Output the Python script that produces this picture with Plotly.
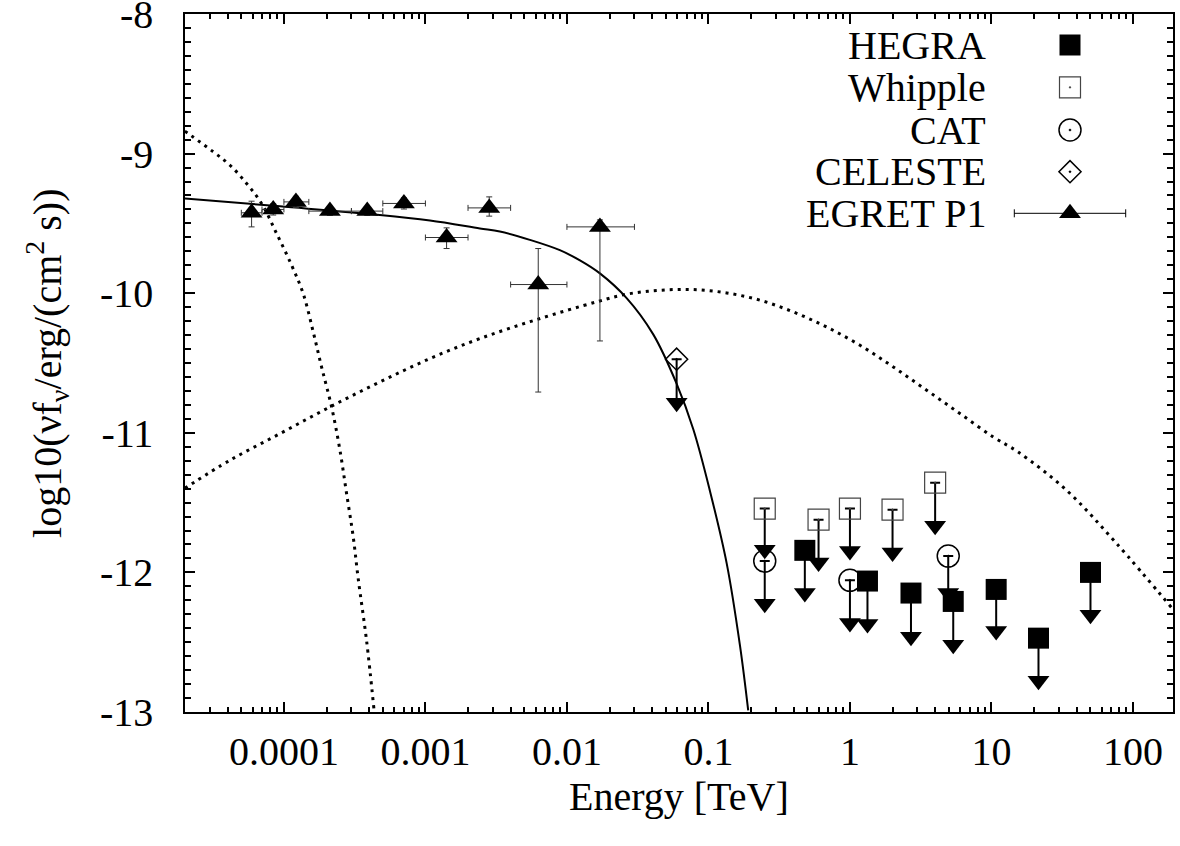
import plotly.graph_objects as go

# EGRET P1 points (energy in TeV, log10 of nuFnu)
egret_e = [5.91e-5, 8.40e-5, 1.216e-4, 2.114e-4, 3.88e-4, 7.05e-4, 1.411e-3, 2.824e-3, 6.27e-3, 1.711e-2]
egret_e_lo = [5.0e-5, 7.0e-5, 1.0e-4, 1.5e-4, 3.0e-4, 5.0e-4, 1.0e-3, 2.0e-3, 4.0e-3, 1.0e-2]
egret_e_hi = [7.0e-5, 1.0e-4, 1.5e-4, 3.0e-4, 5.0e-4, 1.0e-3, 2.0e-3, 4.0e-3, 1.0e-2, 3.0e-2]
egret_flux = [-9.424, -9.400, -9.346, -9.412, -9.412, -9.357, -9.601, -9.389, -9.938, -9.525]
egret_err_up = [0.083, 0.04, 0.04, 0.03, 0.03, 0.04, 0.069, 0.079, 0.258, 0.05]
egret_err_dn = [0.101, 0.04, 0.04, 0.03, 0.03, 0.04, 0.079, 0.059, 0.770, 0.817]

# upper limits: value and end of the arrow
hegra_e = [0.48, 1.33, 2.70, 5.37, 10.8, 21.5, 50.1]
hegra_flux = [-11.842, -12.062, -12.148, -12.208, -12.122, -12.471, -12.000]
hegra_arrow = [-12.148, -12.370, -12.461, -12.518, -12.419, -12.776, -12.303]

whipple_e = [0.25, 0.60, 1.0, 2.0, 4.0]
whipple_flux = [-11.543, -11.622, -11.543, -11.551, -11.357]
whipple_arrow = [-11.837, -11.929, -11.847, -11.857, -11.665]

cat_e = [0.25, 1.0, 4.95]
cat_flux = [-11.919, -12.057, -11.883]
cat_arrow = [-12.224, -12.363, -12.148]

celeste_e = [0.0596]
celeste_flux = [-10.473]
celeste_arrow = [-10.784]

# model curves (log10 E, log10 nuFnu)
sync_loge = [-4.700, -4.028, -3.322, -2.968, -2.615, -2.474, -2.262, -2.050, -1.908, -1.767,
             -1.578, -1.390, -1.225, -1.107, -0.989, -0.871, -0.777, -0.719]
sync_flux = [-9.321, -9.378, -9.440, -9.480, -9.536, -9.558, -9.618, -9.692, -9.765, -9.858,
             -10.035, -10.295, -10.648, -10.975, -11.418, -11.935, -12.525, -12.989]

steep_loge = [-4.700, -4.500, -4.382, -4.264, -4.158, -4.052, -3.946, -3.864, -3.793, -3.734,
              -3.663, -3.604, -3.557, -3.510, -3.475, -3.416, -3.364]
steep_flux = [-8.839, -8.987, -9.082, -9.214, -9.357, -9.572, -9.799, -10.002, -10.277, -10.528,
              -10.815, -11.125, -11.436, -11.747, -12.045, -12.488, -12.977]

ic_loge = [-4.700, -4.382, -4.028, -3.675, -3.322, -2.968, -2.615, -2.214, -1.790, -1.578,
           -1.343, -1.107, -0.871, -0.636, -0.401, -0.165, 0.071, 0.306, 0.542, 0.777,
           1.013, 1.189, 1.531, 1.885, 2.283]
ic_flux = [-11.397, -11.197, -11.006, -10.815, -10.636, -10.468, -10.325, -10.189, -10.062, -10.007,
           -9.979, -9.974, -9.998, -10.050, -10.134, -10.242, -10.373, -10.528, -10.695, -10.862,
           -11.030, -11.138, -11.412, -11.794, -12.265]

x_ticks = [1e-4, 1e-3, 1e-2, 0.1, 1, 10, 100]
x_ticktext = ["0.0001", "0.001", "0.01", "0.1", "1", "10", "100"]
y_ticks = [-13, -12, -11, -10, -9, -8]
y_ticktext = ["-13", "-12", "-11", "-10", "-9", "-8"]

legend_names = ["HEGRA", "Whipple", "CAT", "CELESTE", "EGRET P1"]

FONT = "Liberation Serif, Times New Roman, serif"
FS = 40
X_RANGE = [-4.699, 2.283]
Y_RANGE = [-13, -8]

fig = go.Figure()

dots = dict(color="black", width=3, dash="3px,5px")
fig.add_trace(go.Scatter(x=[10 ** v for v in steep_loge], y=steep_flux, mode="lines",
                         line=dict(shape="spline", **dots), showlegend=False))
fig.add_trace(go.Scatter(x=[10 ** v for v in ic_loge], y=ic_flux, mode="lines",
                         line=dict(shape="spline", **dots), showlegend=False))
fig.add_trace(go.Scatter(x=[10 ** v for v in sync_loge], y=sync_flux, mode="lines",
                         line=dict(shape="spline", color="black", width=2), showlegend=False))


def add_limits(e, flux, arrow, symbol, size, color, line_color, line_width):
    fig.add_trace(go.Scatter(
        x=e, y=flux, mode="markers", showlegend=False,
        marker=dict(symbol=symbol, size=size, color=color,
                    line=dict(color=line_color, width=line_width)),
        error_y=dict(type="data", symmetric=False, array=[0] * len(e),
                     arrayminus=[f - a for f, a in zip(flux, arrow)],
                     color="black", thickness=2, width=5),
    ))
    fig.add_trace(go.Scatter(
        x=e, y=arrow, mode="markers", showlegend=False,
        marker=dict(symbol="triangle-down", size=19, color="black", line=dict(width=0)),
    ))


add_limits(whipple_e, whipple_flux, whipple_arrow, "square-open-dot", 21, "#444444", "#444444", 1.2)
add_limits(cat_e, cat_flux, cat_arrow, "circle-open-dot", 22, "black", "black", 1.5)
add_limits(celeste_e, celeste_flux, celeste_arrow, "diamond-open-dot", 17, "black", "black", 1.5)
add_limits(hegra_e, hegra_flux, hegra_arrow, "square", 21, "black", "black", 0)

fig.add_trace(go.Scatter(
    x=egret_e, y=egret_flux, mode="markers", showlegend=False,
    marker=dict(symbol="triangle-up", size=19, color="black", line=dict(width=0)),
    error_x=dict(type="data", symmetric=False,
                 array=[h - e for h, e in zip(egret_e_hi, egret_e)],
                 arrayminus=[e - l for e, l in zip(egret_e, egret_e_lo)],
                 color="#333333", thickness=1, width=3),
    error_y=dict(type="data", symmetric=False, array=egret_err_up, arrayminus=egret_err_dn,
                 color="#333333", thickness=1, width=3),
))

# hand-made key, gnuplot style (text on the left, sample on the right)
key_rows = [45, 87.3, 130, 171.7, 213.3]
key_styles = [
    dict(symbol="square", size=21, color="black", line=dict(width=0)),
    dict(symbol="square-open-dot", size=21, color="#444444", line=dict(color="#444444", width=1.2)),
    dict(symbol="circle-open-dot", size=22, color="black", line=dict(color="black", width=1.5)),
    dict(symbol="diamond-open-dot", size=17, color="black", line=dict(color="black", width=1.5)),
    dict(symbol="triangle-up", size=19, color="black", line=dict(width=0)),
]
for name, row, style in zip(legend_names, key_rows, key_styles):
    extra = {}
    if name == "EGRET P1":
        extra["error_x"] = dict(type="data", array=[55.7], color="black", thickness=1, width=4)
    fig.add_trace(go.Scatter(x=[1070], y=[row], mode="markers", marker=style,
                             xaxis="x2", yaxis="y2", showlegend=False, **extra))
    fig.add_annotation(x=988, y=row, xref="x2", yref="y2", text=name, showarrow=False,
                       xanchor="right", yanchor="middle", font=dict(family=FONT, size=FS, color="black"))

# empty trace so the mirrored top/right tick axes get drawn
fig.add_trace(go.Scatter(x=[], y=[], xaxis="x3", yaxis="y3", showlegend=False))

tick_style = dict(ticks="inside", tickcolor="black", tickwidth=1.5, ticklen=10,
                  showgrid=False, zeroline=False, automargin=False,
                  tickfont=dict(family=FONT, size=FS, color="black"))

minor_x = [m * 10 ** e for e in range(-5, 3) for m in range(2, 10)]
minor_x_style = dict(tickmode="array", tickvals=minor_x, ticks="inside", ticklen=5,
                     tickwidth=1.5, tickcolor="black")
minor_y_style = dict(dtick=0.1, ticks="inside", ticklen=6, tickwidth=1.5, tickcolor="black")

fig.update_layout(
    width=1180, height=846,
    margin=dict(l=185, r=7, t=14, b=134, autoexpand=False),
    showlegend=False,
    paper_bgcolor="white", plot_bgcolor="white",
    font=dict(family=FONT, size=FS, color="black"),
    xaxis=dict(type="log", range=X_RANGE, tickmode="array", tickvals=x_ticks,
               ticktext=x_ticktext, ticklabelstandoff=3,
               showline=True, linecolor="black", linewidth=1.5, mirror=True,
               minor=minor_x_style, **tick_style),
    yaxis=dict(range=Y_RANGE, tickmode="array", tickvals=y_ticks, ticktext=y_ticktext,
               ticklabelstandoff=22, ticklabeloverflow="allow",
               showline=True, linecolor="black", linewidth=1.5, mirror=True,
               minor=minor_y_style, **tick_style),
    xaxis2=dict(overlaying="x", range=[185, 1173], visible=False, anchor="y2", automargin=False),
    yaxis2=dict(overlaying="y", range=[712, 14], visible=False, anchor="x2", automargin=False),
    xaxis3=dict(type="log", overlaying="x", side="top", anchor="y3", range=X_RANGE,
                tickmode="array", tickvals=x_ticks, showticklabels=False,
                minor=minor_x_style, **tick_style),
    yaxis3=dict(overlaying="y", side="right", anchor="x3", range=Y_RANGE,
                tickmode="array", tickvals=y_ticks, showticklabels=False,
                minor=minor_y_style, **tick_style),
)

fig.add_annotation(x=0.5, y=-0.121, xref="paper", yref="paper", text="Energy [TeV]",
                   showarrow=False, xanchor="center", yanchor="middle",
                   font=dict(family=FONT, size=FS, color="black"))
fig.add_annotation(x=-0.1397, y=0.5, xref="paper", yref="paper",
                   text="log10(νf<sub>ν</sub>/erg/(cm<sup>2</sup> s))", textangle=-90,
                   showarrow=False, xanchor="center", yanchor="middle",
                   font=dict(family=FONT, size=FS, color="black"))

# drop the page's default body margin so the figure sits at the window's corner
fig.write_html("out.html", config={"displayModeBar": False},
               post_script="document.body.style.margin = '0px';")
